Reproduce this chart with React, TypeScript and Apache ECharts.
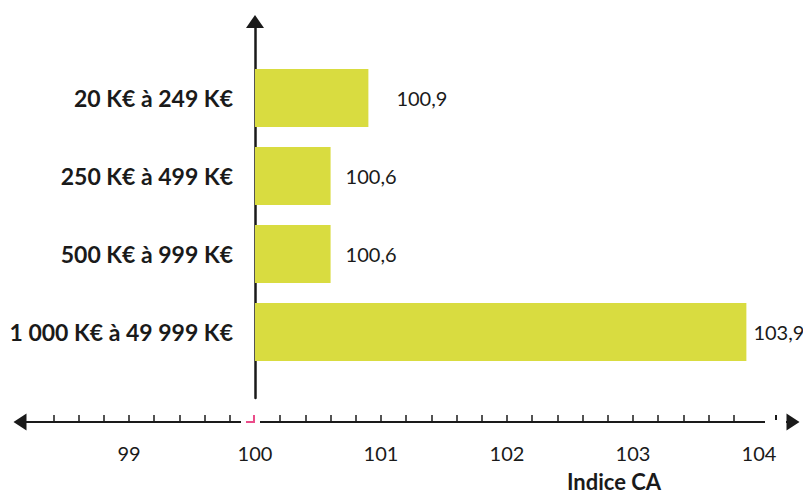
import React, { useEffect, useRef } from "react";
import * as echarts from "echarts";

const categories = ["20 K€ à 249 K€", "250 K€ à 499 K€", "500 K€ à 999 K€", "1 000 K€ à 49 999 K€"];
const values = [100.9, 100.6, 100.6, 103.9];
const BASE = 100;
const tickLabels = [99, 100, 101, 102, 103, 104];
const tickMarks = [
  98.4, 98.6, 98.8, 99, 99.2, 99.4, 99.6, 99.8,
  100.2, 100.4, 100.6, 100.8, 101, 101.2, 101.4, 101.6, 101.8, 102,
  102.2, 102.4, 102.6, 102.8, 103, 103.2, 103.4, 103.6, 103.8,
];
const axisMin = 98.135;
const axisMax = 104.27;
const axisTitle = "Indice CA";

const FONT = "Lato";
const INK = "#1a1a1a";
const BAR = "#d9dc40";
const PINK = "#ea4c89";

const rel = (v: number) => Math.round((v - BASE) * 1000) / 1000;

export default function App() {
  const ref = useRef<HTMLDivElement>(null);
  useEffect(() => {
    document.body.style.margin = "0";
    if (!ref.current) return;
    const chart = echarts.init(ref.current, null, { renderer: "svg" });
    const W = 803;
    const L = 20;
    const R = 10;
    const lo = rel(axisMin);
    const hi = rel(axisMax);
    const left0 = L + ((0 - lo) / (hi - lo)) * (W - L - R);
    const labelGap = [28, 15, 15, 7];
    chart.setOption({
      animation: false,
      textStyle: { fontFamily: FONT },
      grid: [
        { left: left0, right: R, top: 59, bottom: 124, containLabel: false, outerBoundsMode: "none" },
        { left: L, right: R, top: 21.5, bottom: 97, containLabel: false, outerBoundsMode: "none" },
      ],
      xAxis: [
        {
          type: "value",
          gridIndex: 0,
          min: 0,
          max: hi,
          show: false,
        },
        {
          type: "value",
          gridIndex: 1,
          min: lo,
          max: hi,
          offset: 24,
          splitLine: { show: false },
          axisLine: {
            show: true,
            onZero: false,
            symbol: ["triangle", "triangle"],
            symbolSize: [17, 13],
            lineStyle: { color: INK, width: 2 },
          },
          axisTick: {
            show: true,
            inside: true,
            length: 7,
            customValues: tickMarks.map(rel),
            lineStyle: { color: INK, width: 1.5 },
          },
          axisLabel: {
            show: true,
            customValues: tickLabels.map(rel),
            margin: 21,
            fontSize: 20,
            color: INK,
            fontFamily: FONT,
            formatter: (v: number) => String(Math.round(v + BASE)),
          },
        },
      ],
      yAxis: [
        {
          type: "category",
          gridIndex: 0,
          inverse: true,
          data: categories,
          axisLine: { show: false },
          axisTick: { show: false },
          splitLine: { show: false },
          axisLabel: {
            margin: 22,
            fontSize: 23,
            fontWeight: "bold",
            color: INK,
            fontFamily: FONT,
          },
        },
        {
          type: "value",
          gridIndex: 1,
          min: 0,
          max: 1,
          splitLine: { show: false },
          axisTick: { show: false },
          axisLabel: { show: false },
          axisLine: {
            show: true,
            onZero: true,
            symbol: ["none", "triangle"],
            symbolSize: [18, 13],
            lineStyle: { color: INK, width: 2.5 },
          },
        },
      ],
      series: [
        {
          type: "bar",
          xAxisIndex: 0,
          yAxisIndex: 0,
          barWidth: 58,
          data: values.map((v, i) => ({
            value: rel(v),
            label: { distance: labelGap[i] },
          })),
          itemStyle: { color: BAR },
          label: {
            show: true,
            position: "right",
            fontSize: 20,
            color: INK,
            fontFamily: FONT,
            formatter: (p: any) => String(values[p.dataIndex]).replace(".", ","),
          },
        },
      ],
    });

    const x0 = chart.convertToPixel({ xAxisIndex: 1 }, 0) as number;
    const xEnd = chart.convertToPixel({ xAxisIndex: 1 }, hi) as number;
    const ay = 495 - 97 + 24;
    chart.setOption({
      graphic: [
        { type: "rect", shape: { x: x0 - 14, y: ay - 3, width: 19, height: 6 }, style: { fill: "#fff" }, z: 100 },
        {
          type: "polyline",
          shape: { points: [[x0 - 9, ay], [x0 - 1, ay], [x0 - 1, ay - 7]] },
          style: { stroke: PINK, lineWidth: 2, fill: null },
          z: 101,
        },
        { type: "rect", shape: { x: xEnd - 28, y: ay - 3, width: 21, height: 6 }, style: { fill: "#fff" }, z: 100 },
        {
          type: "line",
          shape: { x1: xEnd - 17, y1: ay - 7, x2: xEnd - 17, y2: ay - 2 },
          style: { stroke: INK, lineWidth: 2 },
          z: 101,
        },
        {
          type: "text",
          x: 614,
          y: 481,
          style: {
            text: axisTitle,
            fontSize: 22,
            fontWeight: "bold",
            fontFamily: FONT,
            fill: INK,
            align: "center",
            verticalAlign: "middle",
          },
        },
      ],
    });
    return () => chart.dispose();
  }, []);
  return <div ref={ref} style={{ width: 803, height: 495 }} />;
}
